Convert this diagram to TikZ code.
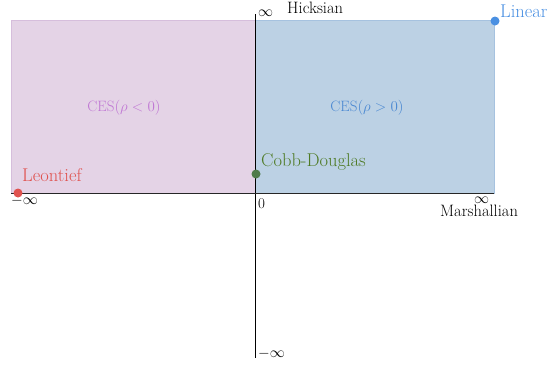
\RequirePackage{fix-cm}
\documentclass[tikz,border=0pt]{standalone}
\usepackage{amsmath}
\definecolor{pinkfill}{HTML}{E4D3E6}
\definecolor{pinkline}{HTML}{D6BEDC}
\definecolor{bluefill}{HTML}{BCD1E4}
\definecolor{blueline}{HTML}{A6C2DF}
\definecolor{purpletext}{HTML}{C077D4}
\definecolor{bluetext}{HTML}{4A88D2}
\definecolor{greentext}{HTML}{4E7A24}
\definecolor{greendot}{HTML}{4F7B4A}
\definecolor{redc}{HTML}{E0524F}
\definecolor{linearc}{HTML}{4A90E2}
\tikzset{
  lbl/.style={inner sep=0pt, anchor=base west, font=\fontsize{16.5}{19}\selectfont},
  sym/.style={inner sep=0pt, anchor=base west, font=\fontsize{15}{18}\selectfont},
  biglbl/.style={inner sep=0pt, anchor=base west, font=\fontsize{18.5}{22}\selectfont},
  ces/.style={inner sep=0pt, font=\fontsize{15}{18}\selectfont},
  dot/.style={circle, inner sep=0pt, minimum size=9pt, fill=#1},
}
\begin{document}
\begin{tikzpicture}[x=1pt,y=-1pt]
\useasboundingbox (0,0) rectangle (559,365);
% regions
\fill[pinkfill, draw=pinkline, line width=0.8pt] (11,20) rectangle (255,193);
\fill[bluefill, draw=blueline, line width=0.8pt] (255,20) rectangle (494,193);
% axes
\coordinate (yt) at (255,14);
\coordinate (yb) at (255,358);
\coordinate (xl) at (11,193);
\coordinate (xr) at (494,193);
\draw[black, line width=0.7pt] (yt) -- (yb);
\draw[black!85, line width=0.9pt] (xl) -- (xr);
% region labels
\node[ces, text=purpletext] (cesneg) at (124,108) {CES$(\rho<0)$};
\node[ces, text=bluetext] (cespos) at (367,108) {CES$(\rho>0)$};
% axis labels
\node[sym] (inftop) at (258,16) {$\infty$};
\node[lbl] (hicks) at (287,13) {Hicksian};
\node[sym] (zero) at (258,208) {0};
\node[sym] (infright) at (474,203) {$\infty$};
\node[lbl] (marsh) at (440,216) {Marshallian};
\node[sym] (ninfleft) at (11,204) {$-\infty$};
\node[sym] (ninfbot) at (258,357) {$-\infty$};
% special points
\node[dot=redc] (leondot) at (18,193) {};
\node[biglbl, text=redc] (leon) at (22,181) {Leontief};
\node[dot=greendot] (cddot) at (256,174) {};
\node[biglbl, text=greentext] (cd) at (261,166) {Cobb-Douglas};
\node[dot=linearc] (lindot) at (495,21) {};
\node[biglbl, text=linearc] (lin) at (500,17) {Linear};
\end{tikzpicture}
\end{document}
